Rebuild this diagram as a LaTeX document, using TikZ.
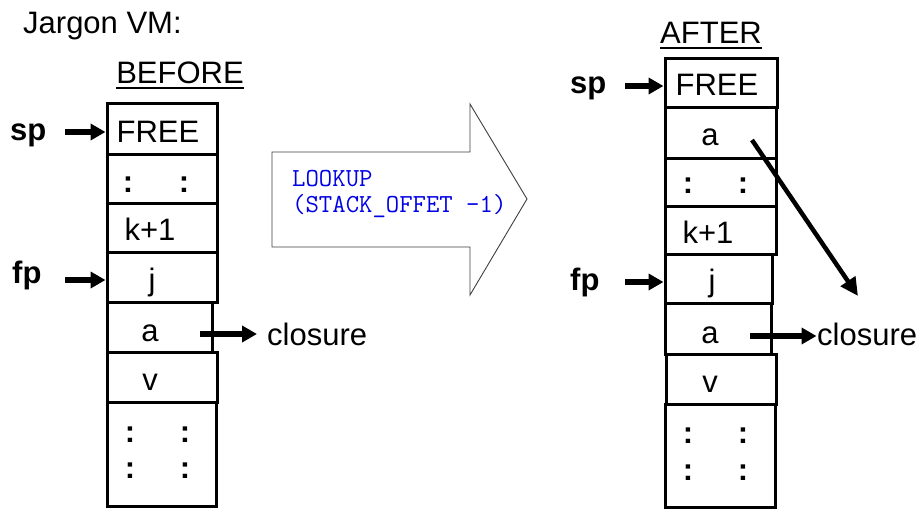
\documentclass[tikz,border=0pt]{standalone}
\usepackage{fontspec}
\setmainfont{Liberation Sans}
\usetikzlibrary{arrows.meta}
\tikzset{
  cell/.style={draw, line width=3pt, inner sep=0pt},
  txt/.style={inner sep=0pt, anchor=base, font=\fontsize{31}{31}\selectfont},
  dots/.style={inner sep=0pt, anchor=base, font=\fontsize{31}{31}\selectfont\bfseries},
  txtw/.style={inner sep=0pt, anchor=base west, font=\fontsize{31}{31}\selectfont},
  reg/.style={inner sep=0pt, anchor=base west, font=\fontsize{31}{31}\selectfont\bfseries},
  arr/.style={line width=5.5pt, -{Triangle[length=15pt,width=16pt]}},
  mono/.style={inner sep=0pt, anchor=base west, text=blue!90!black, font=\ttfamily\fontsize{26}{28}\selectfont},
}
\begin{document}
\begin{tikzpicture}[x=1pt,y=-1pt]
\useasboundingbox[fill=white] (0,0) rectangle (922,520);

% titles
\node[txtw] (title) at (23,33) {Jargon VM:};
\node[txt] (bef) at (180,83) {BEFORE};
\draw[line width=2.5pt] ([yshift=-5pt]bef.base west) -- ([yshift=-5pt]bef.base east);
\node[txt] (aft) at (711,43) {AFTER};
\draw[line width=2.5pt] ([yshift=-5pt]aft.base west) -- ([yshift=-5pt]aft.base east);

% left stack
\node[cell, minimum width=110pt, minimum height=51pt] (L1) at (162,128.5) {};
\node[cell, minimum width=110pt, minimum height=49pt] (L2) at (162,178.5) {};
\node[cell, minimum width=110pt, minimum height=49pt] (L3) at (162,227.5) {};
\node[cell, minimum width=110pt, minimum height=50pt] (L4) at (162,277) {};
\node[cell, minimum width=105pt, minimum height=50pt] (L5) at (159.5,327) {};
\node[cell, minimum width=110pt, minimum height=50pt] (L6) at (162,377) {};
\node[cell, minimum width=109pt, minimum height=104pt] (L7) at (161.5,454) {};

\node[txt] (tL1) at (158,142) {FREE};
\node[dots] (tL2a) at (128,192) {:};
\node[dots] (tL2b) at (184,192) {:};
\node[txt] (tL3) at (150,240) {k+1};
\node[txt] (tL4) at (152,290) {j};
\node[txt] (tL5) at (150,341) {a};
\node[txt] (tL6) at (150,390) {v};
\node[dots] (tL7a) at (130,442) {:};
\node[dots] (tL7b) at (185,442) {:};
\node[dots] (tL7c) at (130,478) {:};
\node[dots] (tL7d) at (185,478) {:};

% left pointers
\node[reg] (spL) at (10,140) {sp};
\node[reg] (fpL) at (12,283) {fp};
\coordinate (spLs) at (65,132);
\coordinate (fpLs) at (65,280);
\draw[arr] (spLs) -- (spLs -| L1.west);
\draw[arr] (fpLs) -- (fpLs -| L4.west);
\node[txtw] (closL) at (267,345) {closure};
\coordinate (clLs) at (200,334);
\draw[arr, shorten >=10pt] (clLs) -- (clLs -| closL.west);

% big arrow
\draw[line width=0.9pt, draw=black!75, fill=white]
  (272,152) -- (470,152) -- (470,104) -- (527,199) -- (470,295) -- (470,247) -- (272,247) -- cycle;
\node[mono] (op1) at (292,186) {LOOKUP};
\node[mono] (op2) at (292,212) {(STACK\_OFFET -1)};

% right stack
\node[cell, minimum width=112pt, minimum height=49pt] (R1) at (721,82.5) {};
\node[cell, minimum width=111pt, minimum height=51pt] (R2) at (720.5,132.5) {};
\node[cell, minimum width=111pt, minimum height=48pt] (R3) at (720.5,182) {};
\node[cell, minimum width=111pt, minimum height=48pt] (R4) at (720.5,230) {};
\node[cell, minimum width=107pt, minimum height=49pt] (R5) at (718.5,278.5) {};
\node[cell, minimum width=106pt, minimum height=51pt] (R6) at (718,328.5) {};
\node[cell, minimum width=110pt, minimum height=50pt] (R7) at (721,379) {};
\node[cell, minimum width=110pt, minimum height=103pt] (R8) at (720,455.5) {};

\node[txt] (tR1) at (717,95) {FREE};
\node[txt] (tR2) at (710,145) {a};
\node[dots] (tR3a) at (688,193) {:};
\node[dots] (tR3b) at (743,193) {:};
\node[txt] (tR4) at (708,243) {k+1};
\node[txt] (tR5) at (712,291) {j};
\node[txt] (tR6) at (710,343) {a};
\node[txt] (tR7) at (710,392) {v};
\node[dots] (tR8a) at (688,443) {:};
\node[dots] (tR8b) at (743,443) {:};
\node[dots] (tR8c) at (688,480) {:};
\node[dots] (tR8d) at (743,480) {:};

% right pointers
\node[reg] (spR) at (570,93) {sp};
\node[reg] (fpR) at (570,290) {fp};
\coordinate (spRs) at (625,86);
\coordinate (fpRs) at (625,282);
\draw[arr] (spRs) -- (spRs -| R1.west);
\draw[arr] (fpRs) -- (fpRs -| R5.west);
\node[txtw] (closR) at (817,345) {closure};
\coordinate (clRs) at (750,336);
\draw[arr, shorten >=0.5pt] (clRs) -- (clRs -| closR.west);
\coordinate (dgS) at (752,140);
\coordinate (dgE) at (858,296);
\draw[line width=4.5pt, -{Triangle[length=18pt,width=17pt]}] (dgS) -- (dgE);
\end{tikzpicture}
\end{document}
